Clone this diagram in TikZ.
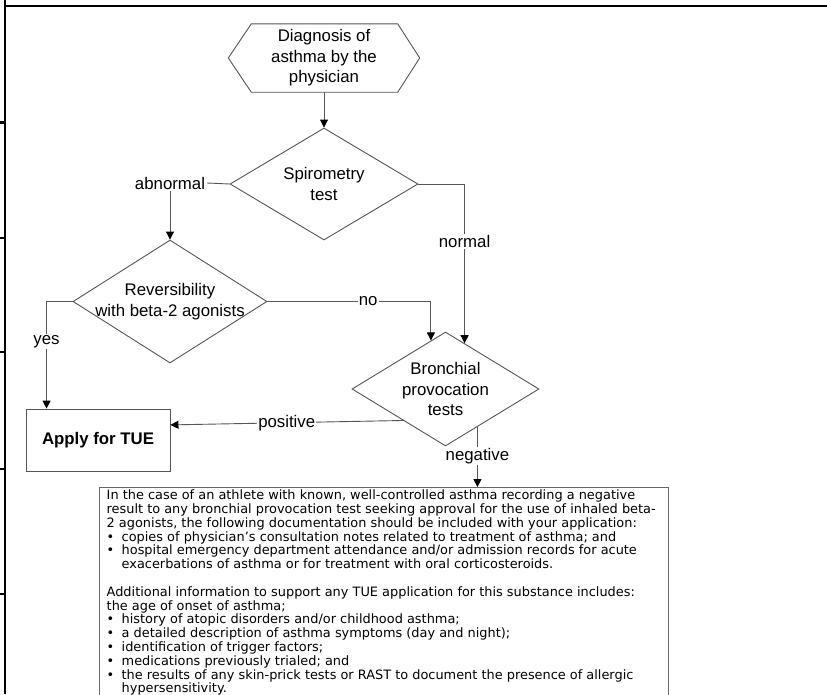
\documentclass[tikz,border=0pt]{standalone}
\usepackage{fontspec}
\setmainfont{Liberation Sans}
\newfontfamily\notefont{DejaVu Sans}
\usetikzlibrary{arrows.meta,shapes.geometric,calc}
\definecolor{linegray}{HTML}{555555}
\definecolor{boxgray}{HTML}{666666}
\begin{document}
\begin{tikzpicture}[x=1pt,y=-1pt,
  frame/.style={draw=black, line width=2.5pt},
  conn/.style={draw=linegray, line width=0.9pt},
  arr/.style={conn, -{Triangle[length=8pt,width=8pt,color=black]}},
  dia/.style={diamond, draw=linegray, line width=0.9pt, inner sep=0pt, aspect=1.6},
  ftext/.style={font=\fontsize{16.8}{20.5}\selectfont, align=center, inner sep=0pt},
  lbl/.style={font=\fontsize{16.8}{20.5}\selectfont, fill=white, inner sep=1.2pt},
  notetext/.style={font=\notefont\fontsize{12.9}{13.8}\selectfont, align=left, inner sep=0pt}
]
\useasboundingbox (0,0) rectangle (827,694);
\clip (0,0) rectangle (827,694);

% page frame
\draw[frame] (5,0) -- (5,694);
\draw[frame] (4,6) -- (827,6);
\foreach \yy in {122.5,238,352,469,594}{
  \draw[frame] (0,\yy) -- (5,\yy);
}

% hexagon
\node[ftext, minimum width=191pt, minimum height=68pt] (diag) at (324,58) {Diagnosis of\\asthma by the\\physician};
\draw[conn] (diag.west) -- ($(diag.north west)+(23,0)$) -- ($(diag.north east)+(-22,0)$) -- (diag.east)
  -- ($(diag.south east)+(-22,0)$) -- ($(diag.south west)+(23,0)$) -- cycle;

% diamonds
\node[dia, minimum width=188pt, minimum height=112pt] (spiro) at (324,184) {};
\node[ftext] (spirotxt) at (spiro) {Spirometry\\test};

\node[dia, minimum width=194pt, minimum height=123pt] (rev) at (170,301.5) {};
\node[ftext] (revtxt) at (rev) {Reversibility\\with beta-2 agonists};

\node[dia, minimum width=187pt, minimum height=114pt] (bron) at (445.5,389) {};
\node[ftext] (brontxt) at (bron) {Bronchial\\provocation\\tests};

% boxes
\node[draw=linegray, line width=0.9pt, minimum width=144pt, minimum height=62pt, inner sep=0pt,
  font=\bfseries\fontsize{16.8}{20}\selectfont] (apply) at (98,440) {Apply for TUE};

\node[draw=boxgray, line width=0.9pt, anchor=north west, minimum width=569pt, minimum height=260pt, inner sep=0pt] (note) at (99,487) {};
\node[notetext, anchor=north west] (notetxt) at ($(note.north west)+(7.5,2.7)$) {%
In the case of an athlete with known, well-controlled asthma recording a negative\\
result to any bronchial provocation test seeking approval for the use of inhaled beta-\\
2 agonists, the following documentation should be included with your application:\\
\makebox[15pt][l]{•}copies of physician’s consultation notes related to treatment of asthma; and\\
\makebox[15pt][l]{•}hospital emergency department attendance and/or admission records for acute\\
\hspace*{15pt}exacerbations of asthma or for treatment with oral corticosteroids.\\
\mbox{}\\
Additional information to support any TUE application for this substance includes:\\
the age of onset of asthma;\\
\makebox[15pt][l]{•}history of atopic disorders and/or childhood asthma;\\
\makebox[15pt][l]{•}a detailed description of asthma symptoms (day and night);\\
\makebox[15pt][l]{•}identification of trigger factors;\\
\makebox[15pt][l]{•}medications previously trialed; and\\
\makebox[15pt][l]{•}the results of any skin-prick tests or RAST to document the presence of allergic\\
\hspace*{15pt}hypersensitivity.};

% connectors
\draw[arr] (diag.south) -- (spiro.north);

\node[ftext, inner sep=2pt] (abn) at (170,183) {abnormal};
\draw[conn] (spiro.west) -- (abn.east);
\draw[arr] (abn.south) -- (rev.north);

\draw[arr] (spiro.east) -| ($(bron.north)!0.203!(bron.east)$) node[lbl, pos=0.68] (normal) {normal};

\draw[arr] (rev.east) -| ($(bron.north)!0.155!(bron.west)$) node[lbl, pos=0.308] (no) {no};

\draw[arr] (rev.west) -| ($(apply.north west)+(21,0)$) node[lbl, pos=0.688] (yes) {yes};

\draw[arr] ($(bron.west)!0.548!(bron.south)$) -- ($(apply.north east)!0.26!(apply.south east)$) node[lbl, pos=0.5] (pos) {positive};

\coordinate (negs) at ($(bron.south)!0.34!(bron.east)$);
\draw[arr] (negs) -- (negs |- note.north) node[lbl, pos=0.487] (neg) {negative};
\end{tikzpicture}
\end{document}
